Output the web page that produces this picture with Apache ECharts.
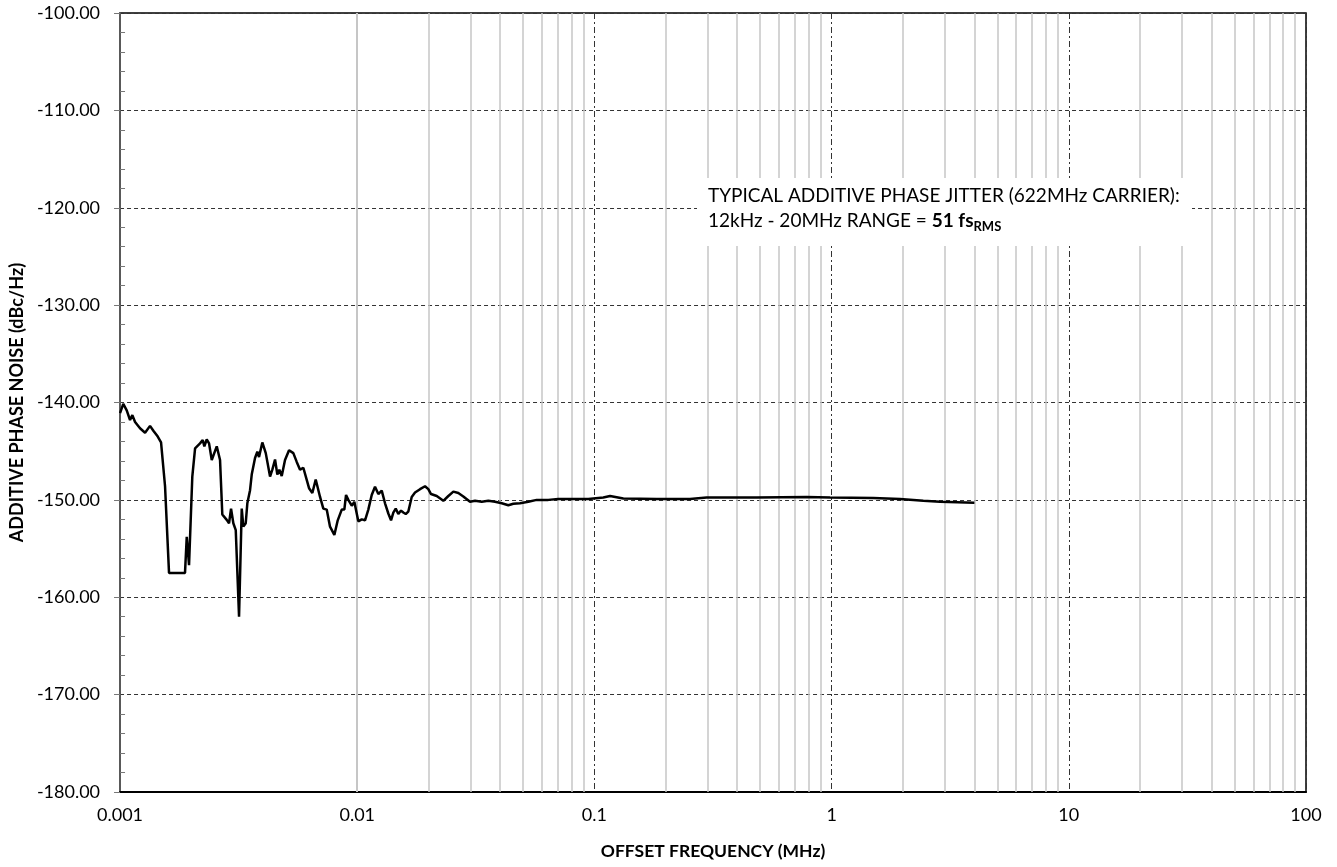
<!DOCTYPE html>
<html><head><meta charset="utf-8">
<script src="https://cdn.jsdelivr.net/npm/echarts@6/dist/echarts.min.js"></script>
<style>html,body{margin:0;padding:0;background:#fff}#c{width:1337px;height:867px}</style>
</head><body><div id="c"></div>
<script>
// Offset frequency (MHz)
const freqMHz = [
0.001000,0.001032,0.001067,0.001102,0.001127,0.001157,0.001214,0.001275,0.001338,0.001382,
0.001442,0.001489,0.001548,0.001609,0.001879,0.001911,0.001954,0.002017,0.002072,0.002174,
0.002232,0.002267,0.002320,0.002373,0.002436,0.002557,0.002640,0.002699,0.002817,0.002881,
0.002938,0.003004,0.003075,0.003135,0.003175,0.003259,0.003310,0.003388,0.003441,0.003533,
0.003591,0.003708,0.003792,0.003855,0.003980,0.004115,0.004290,0.004387,0.004503,0.004604,
0.004695,0.004805,0.004961,0.005158,0.005378,0.005558,0.005740,0.005927,0.006125,0.006264,
0.006468,0.006683,0.006970,0.007196,0.007437,0.007679,0.007808,0.008008,0.008276,0.008604,
0.008823,0.008971,0.009173,0.009324,0.009480,0.009723,0.010106,0.010447,0.010787,0.011138,
0.011511,0.011885,0.012274,0.012685,0.013098,0.013524,0.013884,0.014197,0.014531,0.014903,
0.015298,0.015644,0.016012,0.016422,0.016972,0.017524,0.018398,0.019310,0.019942,0.020470,
0.021639,0.023067,0.024223,0.025424,0.026685,0.028012,0.029891,0.031379,0.033491,0.035706,
0.038107,0.040671,0.04335,0.04551,0.04857,0.05265,0.05712,0.06392,0.07043,0.08023,
0.09425,0.1090,0.1164,0.1324,0.1830,0.2529,0.2974,0.4834,0.7853,0.9847,
1.499,1.943,2.435,2.864,4.0
];
// Additive phase noise (dBc/Hz)
const noiseDbc = [
-141.1,-140.15,-140.8,-141.8,-141.3,-142.0,-142.65,-143.1,-142.4,-142.9,
-143.5,-144.1,-148.6,-157.5,-157.5,-153.8,-156.7,-147.6,-144.7,-144.2,
-143.85,-144.5,-143.8,-144.2,-145.9,-144.5,-145.9,-151.5,-152.05,-152.4,
-150.9,-152.4,-153.1,-152.9,-162.0,-150.9,-152.75,-152.4,-150.35,-149.0,
-147.4,-145.7,-145.05,-145.6,-144.1,-145.2,-147.6,-146.9,-145.85,-147.4,
-146.9,-147.55,-145.9,-144.9,-145.2,-146.1,-146.9,-146.7,-147.95,-148.8,
-149.3,-147.9,-149.7,-150.9,-151.0,-152.75,-152.7,-153.6,-152.1,-151.0,
-151.0,-149.5,-150.0,-149.85,-150.6,-150.2,-152.2,-152.0,-152.1,-151.0,
-149.5,-148.65,-149.4,-149.05,-150.35,-151.4,-152.1,-151.3,-150.9,-151.45,
-151.1,-151.3,-151.45,-151.2,-149.7,-149.25,-148.9,-148.6,-148.9,-149.4,
-149.6,-150.1,-149.6,-149.15,-149.3,-149.65,-150.2,-150.1,-150.2,-150.1,
-150.2,-150.35,-150.55,-150.4,-150.35,-150.2,-150.0,-150.0,-149.9,-149.9,
-149.9,-149.75,-149.6,-149.85,-149.9,-149.9,-149.75,-149.75,-149.7,-149.75,
-149.8,-149.9,-150.1,-150.2,-150.3
];
const xTickLabels = ['0.001','0.01','0.1','1','10','100'];
const decades = [0.001, 0.01, 0.1, 1, 10];
const annotationLine1 = 'TYPICAL ADDITIVE PHASE JITTER (622MHz CARRIER):';
const annotationLine2 = '12kHz - 20MHz RANGE = ';
const annotationValue = '51 fs';
const annotationSub = 'RMS';

const FONT = 'Lato';
const minorLines = [];
decades.forEach(d => { for (let k = 2; k <= 9; k++) minorLines.push({ xAxis: +(d * k).toPrecision(3) }); });

const chart = echarts.init(document.getElementById('c'), null, { renderer: 'canvas' });
chart.setOption({
  animation: false,
  backgroundColor: '#fff',
  grid: { left: 120, right: 31, top: 13, bottom: 75, show: true, borderColor: '#000', borderWidth: 1.5, backgroundColor: 'transparent' },
  xAxis: {
    type: 'log', logBase: 10, min: 0.001, max: 100,
    name: 'OFFSET FREQUENCY (MHz)', nameLocation: 'middle', nameGap: 50,
    nameTextStyle: { fontFamily: FONT, fontWeight: 'bold', fontSize: 17.5, color: '#000' },
    axisLine: { show: true, lineStyle: { color: '#000', width: 2 } },
    axisTick: { show: false },
    axisLabel: { fontFamily: FONT, fontSize: 18, color: '#000', margin: 14,
      formatter: v => xTickLabels[Math.round(Math.log10(v)) + 3] },
    splitLine: { show: true, lineStyle: { color: '#333', type: [6, 3, 2, 3], width: 1 } },
    minorTick: { show: false }, minorSplitLine: { show: false }
  },
  yAxis: [{
    type: 'value', min: -180, max: -100, interval: 10,
    name: 'ADDITIVE PHASE NOISE (dBc/Hz)', nameLocation: 'middle', nameRotate: 90, nameGap: 90,
    nameTextStyle: { fontFamily: FONT, fontWeight: 'bold', fontSize: 18, color: '#000' },
    axisLine: { show: true, lineStyle: { color: '#595959', width: 2 } },
    axisTick: { show: true, length: 6, lineStyle: { color: '#777', width: 1 } },
    axisLabel: { fontFamily: FONT, fontSize: 18, color: '#000', margin: 20, formatter: v => v.toFixed(2) },
    splitLine: { show: true, lineStyle: { color: '#333', type: [4, 3], width: 1 } }
  }, {
    type: 'value', min: -180, max: -100, interval: 10, position: 'left',
    axisLine: { show: false }, axisLabel: { show: false }, splitLine: { show: false },
    axisTick: { show: false, inside: true },
    minorTick: { show: true, splitNumber: 5, length: 5, lineStyle: { color: '#777', width: 1 } }
  }],
  series: [{
    type: 'line', yAxisIndex: 0, z: 1, data: [], silent: true,
    markLine: { silent: true, symbol: 'none', z: 1, animation: false,
      label: { show: false }, lineStyle: { color: '#c6c6c6', type: 'solid', width: 1.5 },
      emphasis: { disabled: true }, data: minorLines }
  }, {
    type: 'line', yAxisIndex: 0, z: 5, showSymbol: false, symbol: 'none',
    lineStyle: { color: '#000', width: 2.5 },
    data: freqMHz.map((f, i) => [f, noiseDbc[i]])
  }],
  graphic: [
    { type: 'rect', left: 697, top: 178, z: 50, shape: { width: 495, height: 68 }, style: { fill: '#fff' } },
    { type: 'text', left: 708, top: 186, z: 51, style: {
      text: '{n|' + annotationLine1 + '}\n{n|' + annotationLine2 + '}{b|' + annotationValue + '}{s|' + annotationSub + '}',
      rich: {
        n: { fontFamily: FONT, fontSize: 19, color: '#111', lineHeight: 25 },
        b: { fontFamily: FONT, fontSize: 19, fontWeight: 'bold', color: '#111', lineHeight: 25 },
        s: { fontFamily: FONT, fontSize: 13, fontWeight: 'bold', color: '#111', lineHeight: 13, verticalAlign: 'bottom' }
      } } }
  ]
});
</script></body></html>
